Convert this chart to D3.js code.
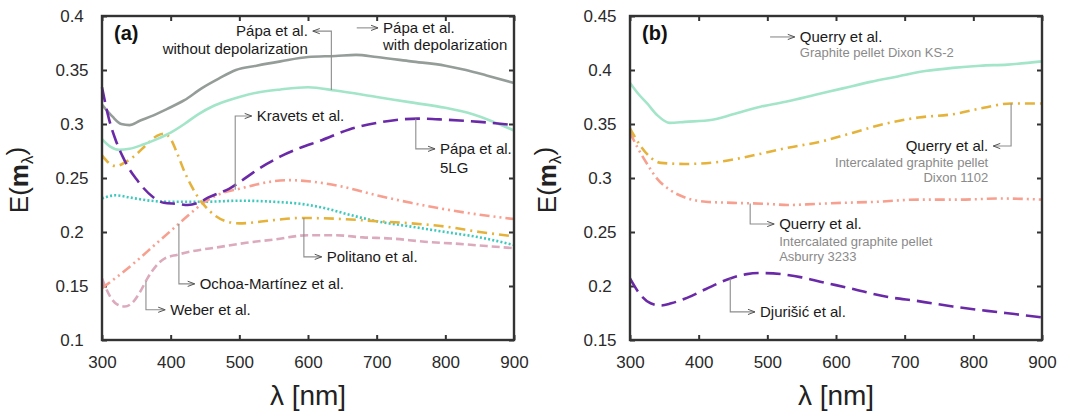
<!DOCTYPE html>
<html>
<head>
<meta charset="utf-8">
<script src="https://cdn.jsdelivr.net/npm/d3@7"></script>
<style>
  body { margin: 0; background: #fff; }
  svg { display: block; }
  text { font-family: "Liberation Sans", Arial, sans-serif; }
</style>
</head>
<body>
<svg id="chart" width="1072" height="419"></svg>
<script>
// ---- Panel (a): extinction function E(m_lambda) of graphene / graphite models ----
const xTicks = [300, 400, 500, 600, 700, 800, 900];
const yTicksA = [0.1, 0.15, 0.2, 0.25, 0.3, 0.35, 0.4];
const yTicksB = [0.15, 0.2, 0.25, 0.3, 0.35, 0.4, 0.45];

const papaDepolLam = [300, 315, 328, 340, 355, 375, 395, 420, 445, 470, 495, 525, 560, 600, 640, 670, 700, 750, 800, 830, 860, 900];
const papaDepolE   = [0.318, 0.307, 0.300, 0.299, 0.303, 0.308, 0.314, 0.322, 0.333, 0.342, 0.350, 0.354, 0.358, 0.362, 0.363, 0.364, 0.362, 0.358, 0.354, 0.350, 0.345, 0.338];

const papaNoDepolLam = [300, 312, 325, 340, 360, 380, 400, 420, 440, 460, 480, 500, 525, 560, 600, 640, 700, 750, 800, 840, 870, 900];
const papaNoDepolE   = [0.286, 0.279, 0.276, 0.277, 0.281, 0.286, 0.292, 0.300, 0.309, 0.316, 0.321, 0.325, 0.329, 0.332, 0.334, 0.331, 0.325, 0.320, 0.315, 0.309, 0.302, 0.294];

const papa5LGLam = [300, 310, 320, 330, 340, 350, 360, 375, 390, 410, 425, 440, 455, 470, 485, 500, 520, 540, 560, 585, 620, 660, 700, 760, 800, 850, 900];
const papa5LGE   = [0.334, 0.305, 0.285, 0.270, 0.258, 0.249, 0.241, 0.232, 0.227, 0.226, 0.225, 0.227, 0.232, 0.236, 0.240, 0.246, 0.255, 0.263, 0.270, 0.277, 0.285, 0.295, 0.301, 0.305, 0.304, 0.302, 0.299];

const politanoLam = [300, 310, 320, 335, 350, 365, 380, 390, 400, 410, 420, 430, 440, 450, 465, 480, 500, 550, 590, 650, 700, 750, 800, 850, 900];
const politanoE   = [0.271, 0.264, 0.261, 0.265, 0.272, 0.281, 0.289, 0.291, 0.286, 0.272, 0.256, 0.243, 0.232, 0.224, 0.215, 0.210, 0.208, 0.211, 0.213, 0.212, 0.210, 0.208, 0.205, 0.200, 0.196];

const ochoaLam = [300, 320, 340, 370, 400, 450, 500, 550, 590, 625, 660, 700, 750, 800, 850, 900];
const ochoaE   = [0.231, 0.234, 0.232, 0.229, 0.228, 0.228, 0.229, 0.228, 0.226, 0.222, 0.216, 0.210, 0.205, 0.200, 0.195, 0.188];

const kravetsLam = [300, 325, 350, 375, 400, 425, 450, 475, 500, 525, 550, 575, 600, 650, 700, 750, 800, 850, 900];
const kravetsE   = [0.148, 0.160, 0.173, 0.187, 0.201, 0.215, 0.228, 0.236, 0.240, 0.244, 0.247, 0.248, 0.247, 0.242, 0.234, 0.227, 0.221, 0.216, 0.212];

const weberLam = [300, 312, 322, 333, 345, 355, 367, 378, 390, 410, 430, 470, 510, 550, 600, 640, 680, 720, 770, 820, 860, 900];
const weberE   = [0.157, 0.140, 0.133, 0.131, 0.135, 0.144, 0.158, 0.168, 0.175, 0.179, 0.182, 0.186, 0.190, 0.193, 0.197, 0.197, 0.195, 0.194, 0.191, 0.189, 0.187, 0.185];

// ---- Panel (b): pellets measured by Querry et al. and Djurišić et al. ----
const querryKS2Lam = [300, 312, 325, 340, 358, 380, 420, 450, 490, 530, 570, 610, 650, 690, 730, 770, 810, 850, 900];
const querryKS2E   = [0.388, 0.378, 0.369, 0.358, 0.351, 0.352, 0.354, 0.359, 0.366, 0.371, 0.377, 0.383, 0.389, 0.394, 0.399, 0.402, 0.404, 0.405, 0.408];

const querry1102Lam = [300, 315, 330, 345, 380, 430, 480, 530, 580, 625, 670, 720, 770, 815, 855, 900];
const querry1102E   = [0.346, 0.330, 0.319, 0.314, 0.313, 0.315, 0.321, 0.328, 0.334, 0.342, 0.350, 0.356, 0.359, 0.365, 0.369, 0.369];

const querry3233Lam = [300, 312, 325, 340, 358, 380, 410, 450, 500, 530, 570, 610, 660, 720, 780, 840, 900];
const querry3233E   = [0.342, 0.327, 0.313, 0.299, 0.289, 0.282, 0.278, 0.277, 0.276, 0.275, 0.276, 0.277, 0.278, 0.280, 0.280, 0.281, 0.280];

const djurisicLam = [300, 315, 330, 345, 360, 383, 410, 446, 470, 490, 520, 550, 577, 620, 674, 720, 770, 820, 860, 900];
const djurisicE   = [0.207, 0.192, 0.184, 0.182, 0.184, 0.189, 0.197, 0.207, 0.211, 0.212, 0.211, 0.208, 0.204, 0.198, 0.190, 0.186, 0.181, 0.177, 0.174, 0.171];

// ---- styles ----
const C = {
  gray: "#959d99", mint: "#a3e5c8", purple: "#6a2aa8", yellow: "#e5b33b",
  cyan: "#3ec9bd", salmon: "#f7a090", pink: "#dcaabd"
};
const DASH = {
  solid: null, longDash: "15,7", dashDot: "10,5,2,5",
  dashDotDot: "10,4,2,4,2,4", dotted: "2,2.2", dashed: "8,4"
};

const svg = d3.select("#chart");
const H = { top: 16, bottom: 340 };

function series(lam, e) { return lam.map((l, i) => ({ l, e: e[i] })); }
function interp(lam, e, l) {
  for (let i = 1; i < lam.length; i++) {
    if (l <= lam[i]) {
      const t = (l - lam[i - 1]) / (lam[i] - lam[i - 1]);
      return e[i - 1] + t * (e[i] - e[i - 1]);
    }
  }
  return e[e.length - 1];
}

function panel(opt) {
  const g = svg.append("g");
  const x = d3.scaleLinear().domain([300, 900]).range([opt.left, opt.left + 412]);
  const y = d3.scaleLinear().domain(opt.yDomain).range([H.bottom, H.top]);

  const ink = "#333";
  // axes with inward ticks on all four sides
  const bottom = g.append("g").attr("transform", `translate(0,${H.bottom})`)
    .call(d3.axisBottom(x).tickValues(xTicks).tickSizeInner(-5).tickSizeOuter(0).tickPadding(16).tickFormat(d3.format("d")));
  const top = g.append("g").attr("transform", `translate(0,${H.top})`)
    .call(d3.axisTop(x).tickValues(xTicks).tickSizeInner(-5).tickSizeOuter(0).tickFormat(""));
  const left = g.append("g").attr("transform", `translate(${opt.left},0)`)
    .call(d3.axisLeft(y).tickValues(opt.yTicks).tickSizeInner(-5).tickSizeOuter(0).tickFormat(d => +d.toFixed(2) + ""));
  const right = g.append("g").attr("transform", `translate(${opt.left + 412},0)`)
    .call(d3.axisRight(y).tickValues(opt.yTicks).tickSizeInner(-5).tickSizeOuter(0).tickFormat(""));
  [bottom, top, left, right].forEach(a => {
    a.select(".domain").remove();
    a.selectAll(".tick line").attr("stroke", ink).attr("stroke-width", 2);
    a.selectAll(".tick text").attr("fill", "#2a2a2a").style("font-size", "17px");
  });
  left.selectAll(".tick text").attr("text-anchor", "middle").attr("x", -30);

  // curves
  const line = d3.line().x(d => x(d.l)).y(d => y(d.e)).curve(d3.curveMonotoneX);
  opt.curves.forEach(c => {
    g.append("path").datum(series(c.lam, c.e))
      .attr("d", line).attr("fill", "none")
      .attr("stroke", c.color).attr("stroke-width", 2.6)
      .attr("stroke-dasharray", c.dash);
  });

  // frame
  g.append("rect").attr("x", opt.left).attr("y", H.top)
    .attr("width", 412).attr("height", H.bottom - H.top)
    .attr("fill", "none").attr("stroke", ink).attr("stroke-width", 2.4);

  // panel tag
  g.append("text").attr("x", opt.left + 12).attr("y", 40)
    .attr("font-weight", "bold").style("font-size", "20px").attr("fill", "#111")
    .text(opt.tag);

  // leader lines with open arrowheads and labels
  opt.notes.forEach(n => {
    const y0 = n.on ? interp(n.on[0], n.on[1], n.l0) : n.v0;
    const p0 = [x(n.l0), y(y0)];
    const p1 = [x(n.l0), y(n.vBend)];
    const p2 = [x(n.lTip), y(n.vBend)];
    g.append("path").attr("d", d3.line()([p0, p1, p2]))
      .attr("fill", "none").attr("stroke", "#8c8c8c").attr("stroke-width", 1.1);
    const dir = Math.sign(p2[0] - p1[0]);
    const ah = 7, aw = 2.6;
    g.append("path")
      .attr("d", `M${p2[0] - dir * ah},${p2[1] - aw}L${p2[0]},${p2[1]}L${p2[0] - dir * ah},${p2[1] + aw}`)
      .attr("fill", "none").attr("stroke", "#555").attr("stroke-width", 1);
    const tx = p2[0] + dir * 5;
    let by = p2[1] + 5;
    n.lines.forEach((ln, i) => {
      if (i > 0) by += ln.gap;
      g.append("text").attr("x", tx).attr("y", by)
        .attr("text-anchor", dir > 0 ? "start" : "end")
        .attr("fill", ln.sub ? "#8a8a8a" : "#1a1a1a")
        .style("font-size", ln.sub ? "13px" : "15px")
        .text(ln.t);
    });
  });

  // axis titles
  const yt = g.append("text")
    .attr("transform", `translate(${opt.left - 74},${(H.top + H.bottom) / 2 + 2}) rotate(-90)`)
    .attr("text-anchor", "middle").attr("fill", "#222").style("font-size", "26px");
  yt.append("tspan").text("E(");
  yt.append("tspan").attr("font-weight", "bold").text("m");
  yt.append("tspan").attr("dy", "0.28em").style("font-size", "17px").text("λ");
  yt.append("tspan").attr("dy", "-0.28em").text(")");

  g.append("text").attr("x", opt.left + 206).attr("y", 405)
    .attr("text-anchor", "middle").attr("fill", "#222").style("font-size", "28px")
    .text("λ [nm]");
}

panel({
  left: 102, tag: "(a)", yDomain: [0.1, 0.4], yTicks: yTicksA,
  curves: [
    { lam: weberLam, e: weberE, color: C.pink, dash: DASH.dashed },
    { lam: ochoaLam, e: ochoaE, color: C.cyan, dash: DASH.dotted },
    { lam: kravetsLam, e: kravetsE, color: C.salmon, dash: DASH.dashDotDot },
    { lam: politanoLam, e: politanoE, color: C.yellow, dash: DASH.dashDot },
    { lam: papaDepolLam, e: papaDepolE, color: C.gray, dash: DASH.solid },
    { lam: papaNoDepolLam, e: papaNoDepolE, color: C.mint, dash: DASH.solid },
    { lam: papa5LGLam, e: papa5LGE, color: C.purple, dash: DASH.longDash }
  ],
  notes: [
    { l0: 634, on: [papaNoDepolLam, papaNoDepolE], vBend: 0.386, lTip: 607,
      lines: [{ t: "Pápa et al." }, { t: "without depolarization", gap: 18 }] },
    { l0: 671, v0: 0.389, vBend: 0.389, lTip: 702,
      lines: [{ t: "Pápa et al." }, { t: "with depolarization", gap: 17 }] },
    { l0: 494, on: [kravetsLam, kravetsE], vBend: 0.3074, lTip: 518,
      lines: [{ t: "Kravets et al." }] },
    { l0: 757, on: [papa5LGLam, papa5LGE], vBend: 0.277, lTip: 785,
      lines: [{ t: "Pápa et al." }, { t: "5LG", gap: 19 }] },
    { l0: 594, on: [politanoLam, politanoE], vBend: 0.177, lTip: 620,
      lines: [{ t: "Politano et al." }] },
    { l0: 412, on: [kravetsLam, kravetsE], vBend: 0.152, lTip: 435,
      lines: [{ t: "Ochoa-Martínez et al." }] },
    { l0: 364, on: [weberLam, weberE], vBend: 0.128, lTip: 392,
      lines: [{ t: "Weber et al." }] }
  ]
});

panel({
  left: 630, tag: "(b)", yDomain: [0.15, 0.45], yTicks: yTicksB,
  curves: [
    { lam: djurisicLam, e: djurisicE, color: C.purple, dash: DASH.longDash },
    { lam: querry3233Lam, e: querry3233E, color: C.salmon, dash: DASH.dashDotDot },
    { lam: querry1102Lam, e: querry1102E, color: C.yellow, dash: DASH.dashDot },
    { lam: querryKS2Lam, e: querryKS2E, color: C.mint, dash: DASH.solid }
  ],
  notes: [
    { l0: 504, v0: 0.4306, vBend: 0.4306, lTip: 540,
      lines: [{ t: "Querry et al." }, { t: "Graphite pellet Dixon KS-2", sub: true, gap: 15 }] },
    { l0: 855, on: [querry1102Lam, querry1102E], vBend: 0.3296, lTip: 829,
      lines: [{ t: "Querry et al." }, { t: "Intercalated graphite pellet", sub: true, gap: 16 }, { t: "Dixon 1102", sub: true, gap: 15 }] },
    { l0: 475, on: [querry3233Lam, querry3233E], vBend: 0.2574, lTip: 510,
      lines: [{ t: "Querry et al." }, { t: "Intercalated graphite pellet", sub: true, gap: 17 }, { t: "Asburry 3233", sub: true, gap: 15 }] },
    { l0: 446, on: [djurisicLam, djurisicE], vBend: 0.176, lTip: 482,
      lines: [{ t: "Djurišić et al." }] }
  ]
});
</script>
</body>
</html>
